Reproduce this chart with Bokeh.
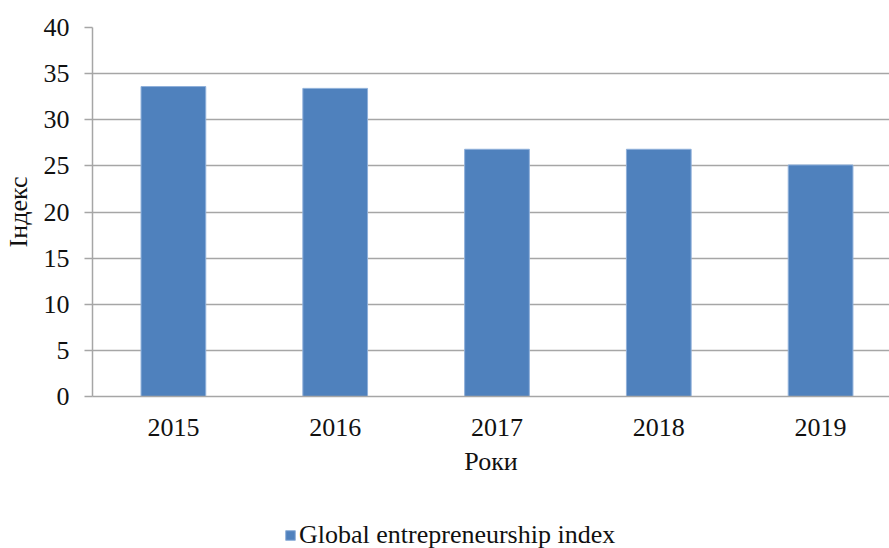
from bokeh.plotting import figure
from bokeh.layouts import column
from bokeh.models import Range1d, FixedTicker, Legend, LegendItem, ColumnDataSource
from bokeh.embed import file_html
from bokeh.resources import INLINE

years = [2015, 2016, 2017, 2018, 2019]
index_values = [33.6, 33.4, 26.8, 26.8, 25.1]
y_ticks = [0, 5, 10, 15, 20, 25, 30, 35, 40]
series_name = "Global entrepreneurship index"
x_title = "Роки"
y_title = "Індекс"

FONT = "Liberation Serif"
FS = "26px"
TXT = "#111111"
GRID = "#a6a6a6"
BAR = "#4f81bd"
BAR_EDGE = "#8fb0da"

src = ColumnDataSource(dict(x=years, top=index_values))

p = figure(width=889, height=484, output_backend="svg", toolbar_location=None,
           x_range=Range1d(2014.5, 2014.5 + 798 / 162), y_range=Range1d(0, 40),
           min_border_left=91, min_border_right=0, min_border_top=27, min_border_bottom=88)

r = p.vbar(x="x", top="top", bottom=0, width=0.4, source=src,
           fill_color=BAR, line_color=BAR_EDGE, line_width=1)

p.outline_line_color = None
p.xgrid.grid_line_color = None
p.ygrid.grid_line_color = GRID
p.ygrid.grid_line_width = 1.5
p.ygrid.ticker = FixedTicker(ticks=y_ticks)

p.yaxis.ticker = FixedTicker(ticks=y_ticks)
p.xaxis.ticker = FixedTicker(ticks=years)

for ax in (p.xaxis[0], p.yaxis[0]):
    ax.axis_line_color = GRID
    ax.axis_line_width = 1.5
    ax.major_label_text_font = FONT
    ax.major_label_text_font_size = FS
    ax.major_label_text_color = TXT
    ax.axis_label_text_font = FONT
    ax.axis_label_text_font_size = FS
    ax.axis_label_text_font_style = "normal"
    ax.axis_label_text_color = TXT
    ax.minor_tick_line_color = None

p.yaxis.major_tick_line_color = GRID
p.yaxis.major_tick_line_width = 1.5
p.yaxis.major_tick_out = 8
p.yaxis.major_tick_in = 0
p.yaxis.major_label_standoff = 15
p.yaxis.axis_label = y_title
p.yaxis.axis_label_standoff = 8

p.xaxis.major_tick_line_color = None
p.xaxis.major_tick_out = 0
p.xaxis.major_tick_in = 0
p.xaxis.major_label_standoff = 22
p.xaxis.axis_label = x_title
p.xaxis.axis_label_standoff = 8

# legend strip below the chart (same series, drawn outside its visible range)
p2 = figure(width=889, height=64, output_backend="svg", toolbar_location=None,
            x_range=Range1d(0, 1), y_range=Range1d(0, 1),
            x_axis_location=None, y_axis_location=None,
            min_border_left=0, min_border_right=0, min_border_top=0, min_border_bottom=0)
p2.outline_line_color = None
p2.grid.grid_line_color = None
r2 = p2.vbar(x="x", top="top", bottom=0, width=0.4, source=src,
             fill_color=BAR, line_color=BAR_EDGE, line_width=1)

legend = Legend(items=[LegendItem(label=series_name, renderers=[r2])],
                location=(192, -2), orientation="horizontal",
                border_line_color=None, background_fill_alpha=0,
                glyph_width=12, glyph_height=12, label_standoff=3,
                label_text_font=FONT, label_text_font_size=FS,
                label_text_color=TXT, padding=0, margin=0)
p2.add_layout(legend)

layout = column(p, p2, spacing=0)
open("out.html", "w").write(file_html(layout, INLINE))
